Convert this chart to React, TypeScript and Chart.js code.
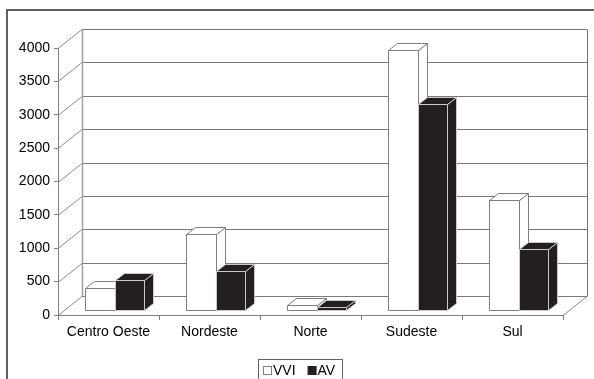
import { useEffect, useRef } from "react";
import { Chart, registerables } from "chart.js";

Chart.register(...registerables);

// Categories and series values
const regions = ["Centro Oeste", "Nordeste", "Norte", "Sudeste", "Sul"];
const seriesNames = ["VVI", "AV"];
const vviValues = [330, 1140, 70, 3890, 1650];
const avValues = [450, 580, 50, 3080, 910];
const yMin = 0;
const yMax = 4000;
const yStep = 500;

const FONT_FAMILY = '"Liberation Sans", Arial, Helvetica, sans-serif';

// Perspective offsets of the pseudo-3D box
const WALL_DX = 24;
const WALL_DY = 19;
const BAR_SHIFT_X = 6;
const BAR_SHIFT_Y = 5;
const BAR_DX = 9;
const BAR_DY = 7;

const snap = (v: number) => Math.round(v) + 0.5;

const box3dPlugin = {
  id: "box3d",
  beforeDraw(chart: any) {
    const { ctx, width, height } = chart;
    ctx.save();
    ctx.fillStyle = "#ffffff";
    ctx.fillRect(0, 0, width, height);
    ctx.strokeStyle = "#606060";
    ctx.lineWidth = 2;
    ctx.strokeRect(7, 10, width + 20, height + 20);
    ctx.restore();
  },
  beforeDatasetsDraw(chart: any) {
    const { ctx, chartArea: a, scales } = chart;
    const y = scales.y;
    const top = y.getPixelForValue(y.max);
    const bottom = y.getPixelForValue(y.min);
    ctx.save();
    ctx.lineWidth = 1;

    // side wall diagonals and back wall gridlines
    y.ticks.forEach((t: any) => {
      const py = y.getPixelForValue(t.value);
      ctx.strokeStyle = "#8a8a8a";
      ctx.beginPath();
      ctx.moveTo(a.left, snap(py));
      ctx.lineTo(a.left + WALL_DX, snap(py - WALL_DY));
      ctx.stroke();
      ctx.strokeStyle = "#7a7a7a";
      ctx.beginPath();
      ctx.moveTo(a.left + WALL_DX, snap(py - WALL_DY));
      ctx.lineTo(a.right + WALL_DX, snap(py - WALL_DY));
      ctx.stroke();
    });

    // back wall vertical edges
    ctx.strokeStyle = "#a0a0a0";
    ctx.lineWidth = 1.5;
    ctx.beginPath();
    ctx.moveTo(a.left + WALL_DX + 0.5, snap(top - WALL_DY));
    ctx.lineTo(a.left + WALL_DX + 0.5, snap(bottom - WALL_DY));
    ctx.stroke();
    ctx.lineWidth = 1;
    ctx.strokeStyle = "#6e6e6e";
    ctx.beginPath();
    ctx.moveTo(snap(a.right + WALL_DX), snap(top - WALL_DY));
    ctx.lineTo(snap(a.right + WALL_DX), snap(bottom - WALL_DY));
    ctx.stroke();

    // floor right edge
    ctx.strokeStyle = "#8a8a8a";
    ctx.beginPath();
    ctx.moveTo(a.right, snap(bottom));
    ctx.lineTo(a.right + WALL_DX, snap(bottom - WALL_DY));
    ctx.stroke();
    ctx.restore();
  },
  beforeDatasetDraw() {
    // bars are drawn as boxes in afterDatasetsDraw
    return false;
  },
  afterDatasetsDraw(chart: any) {
    const { ctx } = chart;
    const datasets = chart.data.datasets;
    ctx.save();
    ctx.lineWidth = 1;
    ctx.lineJoin = "miter";
    for (let i = 0; i < chart.data.labels.length; i++) {
      for (let d = 0; d < datasets.length; d++) {
        const bar = chart.getDatasetMeta(d).data[i];
        const { x, y, base, width } = bar.getProps(["x", "y", "base", "width"], true);
        const l = snap(x - width / 2 + BAR_SHIFT_X);
        const r = snap(x + width / 2 + BAR_SHIFT_X);
        const t = snap(y - BAR_SHIFT_Y);
        const b = snap(base - BAR_SHIFT_Y);
        ctx.fillStyle = datasets[d].backgroundColor;
        ctx.strokeStyle = datasets[d].borderColor;

        // side face
        ctx.beginPath();
        ctx.moveTo(r, t);
        ctx.lineTo(r + BAR_DX, t - BAR_DY);
        ctx.lineTo(r + BAR_DX, b - BAR_DY);
        ctx.lineTo(r, b);
        ctx.closePath();
        ctx.fill();
        ctx.stroke();

        // top face
        ctx.beginPath();
        ctx.moveTo(l, t);
        ctx.lineTo(l + BAR_DX, t - BAR_DY);
        ctx.lineTo(r + BAR_DX, t - BAR_DY);
        ctx.lineTo(r, t);
        ctx.closePath();
        ctx.fill();
        ctx.stroke();

        // front face
        ctx.beginPath();
        ctx.rect(l, t, r - l, b - t);
        ctx.fill();
        ctx.stroke();
      }
    }
    ctx.restore();
  },
  afterDraw(chart: any) {
    const { ctx } = chart;
    const datasets = chart.data.datasets;
    ctx.save();
    ctx.font = `14px ${FONT_FAMILY}`;
    ctx.textBaseline = "alphabetic";
    ctx.textAlign = "left";
    const boxLeft = 258;
    const boxTop = 359;
    const markerSize = 8;
    const textGap = 10;
    const itemGap = 12;
    let cx = boxLeft + 5;
    let right = cx;
    const items = datasets.map((ds: any) => {
      const item = { ds, x: cx };
      const w = ctx.measureText(ds.label).width;
      right = cx + textGap + w;
      cx = right + itemGap;
      return item;
    });

    ctx.strokeStyle = "#606060";
    ctx.lineWidth = 1;
    ctx.strokeRect(boxLeft + 0.5, boxTop + 0.5, Math.round(right + 7 - boxLeft), 40);

    items.forEach(({ ds, x }: any) => {
      ctx.fillStyle = ds.backgroundColor;
      ctx.fillRect(x + 0.5, 366.5, markerSize, markerSize);
      ctx.strokeStyle = ds.legendEdge;
      ctx.strokeRect(x + 0.5, 366.5, markerSize, markerSize);
      ctx.fillStyle = "#000000";
      ctx.fillText(ds.label, x + textGap, 375);
    });
    ctx.restore();
  },
};

export default function App() {
  const canvasRef = useRef<HTMLCanvasElement | null>(null);

  useEffect(() => {
    if (!canvasRef.current) return;
    const chart = new Chart(canvasRef.current, {
      type: "bar",
      data: {
        labels: regions,
        datasets: [
          {
            label: seriesNames[0],
            data: vviValues,
            backgroundColor: "#ffffff",
            borderColor: "#7f7f7f",
            legendEdge: "#7f7f7f",
            borderWidth: 0,
          } as any,
          {
            label: seriesNames[1],
            data: avValues,
            backgroundColor: "#231f20",
            borderColor: "#c8c8c8",
            legendEdge: "#231f20",
            borderWidth: 0,
          } as any,
        ],
      },
      options: {
        responsive: false,
        animation: false,
        devicePixelRatio: 1,
        layout: { padding: { left: 0, right: 31, top: 48, bottom: 34 } },
        datasets: { bar: { categoryPercentage: 0.575, barPercentage: 1 } },
        plugins: {
          legend: { display: false },
          tooltip: { enabled: false },
        },
        scales: {
          x: {
            afterFit: (scale: any) => {
              scale.height = 30;
            },
            grid: {
              offset: true,
              drawOnChartArea: false,
              drawTicks: true,
              tickLength: 5,
              color: "#808080",
            },
            border: { display: true, color: "#808080" },
            ticks: {
              color: "#000000",
              padding: 4,
              maxRotation: 0,
              font: { family: FONT_FAMILY, size: 14 },
            },
          },
          y: {
            min: yMin,
            max: yMax,
            afterFit: (scale: any) => {
              scale.width = 58;
            },
            grid: {
              drawOnChartArea: false,
              drawTicks: true,
              tickLength: 4,
              color: "#808080",
            },
            border: { display: true, color: "#808080" },
            ticks: {
              stepSize: yStep,
              color: "#000000",
              padding: 4,
              font: { family: FONT_FAMILY, size: 14 },
              callback: (value: any) => String(value),
            },
          },
        },
      },
      plugins: [box3dPlugin],
    });
    return () => chart.destroy();
  }, []);

  return (
    <div style={{ position: "fixed", left: 0, top: 0, width: 594, height: 379 }}>
      <canvas ref={canvasRef} width={594} height={379} style={{ display: "block" }} />
    </div>
  );
}
